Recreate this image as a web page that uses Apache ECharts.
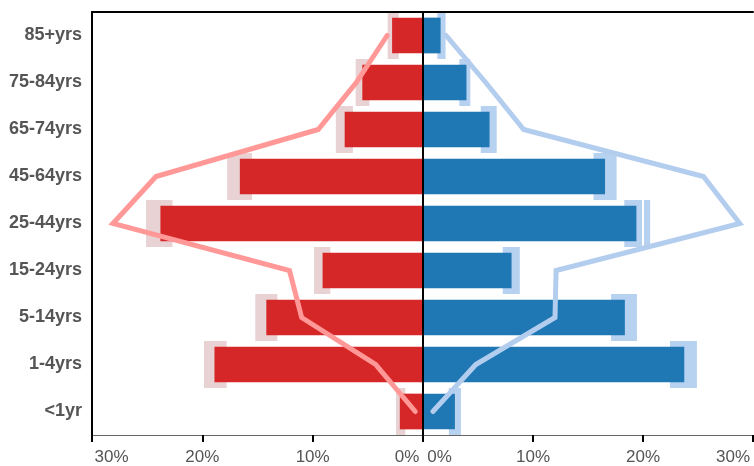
<!DOCTYPE html>
<html>
<head>
<meta charset="utf-8">
<script src="https://cdn.jsdelivr.net/npm/echarts@6/dist/echarts.min.js"></script>
<style>html,body{margin:0;padding:0;background:#fff}#c{width:754px;height:466px}</style>
</head>
<body>
<div id="c"></div>
<script>
// Categories, top to bottom
var categories = ['85+yrs','75-84yrs','65-74yrs','45-64yrs','25-44yrs','15-24yrs','5-14yrs','1-4yrs','<1yr'];
// Left side (red) values in %
var leftBars  = [2.8, 5.5, 7.1, 16.6, 23.8, 9.1, 14.2, 18.9, 2.1];
var leftLow   = [2.2, 4.85, 6.35, 15.5, 22.7, 8.4, 13.2, 17.8, 1.6];
var leftHigh  = [3.2, 6.1, 7.9, 17.75, 25.1, 9.9, 15.2, 19.9, 2.45];
var leftLine  = [3.25, 6.05, 9.5, 24.2, 28.1, 12.1, 11.0, 4.3, 0.7];
// Right side (blue) values in %
var rightBars = [1.6, 3.95, 6.05, 16.55, 19.4, 8.05, 18.35, 23.75, 2.9];
var rightLow  = [1.3, 3.3, 5.25, 15.5, 18.3, 7.25, 17.1, 22.45, 2.35];
var rightHigh = [2.05, 4.3, 6.7, 17.6, 20.65, 8.8, 19.45, 24.9, 3.45];
var rightLine = [2.1, 5.7, 9.15, 25.5, 28.8, 12.1, 12.0, 4.8, 0.9];
// Tick values
var ticks = [0, 10, 20, 30];

function diff(a, b) { return a.map(function (v, i) { return +(v - b[i]).toFixed(3); }); }

var labelFont = { fontFamily: 'Liberation Sans, Arial, sans-serif', fontSize: 17, color: '#555' };

function xAxisBottom(gi, side) {
  return {
    type: 'value', gridIndex: gi, min: ticks[0], max: ticks[ticks.length - 1], interval: 10, inverse: side === 'L', position: 'bottom',
    axisLine: { show: true, onZero: false, lineStyle: { color: '#666', width: 1 } },
    axisTick: { show: true, length: 7, lineStyle: { color: '#000', width: 2 } },
    splitLine: { show: true, lineStyle: { color: '#fff', width: 2 } },
    axisLabel: {
      show: true, margin: 14, showMinLabel: true, showMaxLabel: true,
      fontFamily: labelFont.fontFamily, fontSize: 17, color: '#555',
      formatter: function (v) {
        if (v === 0) return side === 'L' ? '{l0|0%}' : '{r0|0%}';
        if (v === 30) return side === 'L' ? '{l30|30%}' : '{r30|30%}';
        return v + '%';
      },
      rich: {
        l0: { fontFamily: labelFont.fontFamily, fontSize: 17, color: '#555', padding: [0, 32, 0, 0] },
        r0: { fontFamily: labelFont.fontFamily, fontSize: 17, color: '#555', padding: [0, 0, 0, 33] },
        l30: { fontFamily: labelFont.fontFamily, fontSize: 17, color: '#555', padding: [0, 0, 0, 39] },
        r30: { fontFamily: labelFont.fontFamily, fontSize: 17, color: '#555', padding: [0, 40, 0, 0] }
      }
    }
  };
}
function xAxisTop(gi, side) {
  return {
    type: 'value', gridIndex: gi, min: 0, max: 30, interval: 10, inverse: side === 'L', position: 'top', z: 5,
    axisLine: { show: true, onZero: false, lineStyle: { color: '#000', width: 2 } },
    axisTick: { show: false }, axisLabel: { show: false }, splitLine: { show: false }
  };
}
function yAxisMain(gi, showLabels) {
  return {
    type: 'category', gridIndex: gi, data: categories, inverse: true, position: 'left', z: 5,
    axisLine: { show: true, onZero: false, lineStyle: { color: '#000', width: 2 } },
    axisTick: { show: false },
    splitLine: { show: false },
    axisLabel: showLabels ? {
      show: true, margin: 10, fontFamily: labelFont.fontFamily, fontSize: 18, fontWeight: 'bold', color: '#555'
    } : { show: false }
  };
}
function yAxisHidden(gi) {
  return { type: 'category', gridIndex: gi, data: categories, inverse: true, show: false };
}

var option = {
  animation: false,
  grid: [
    { left: 92, top: 12, width: 331, height: 424 },
    { left: 423, top: 12, width: 330, height: 424 }
  ],
  xAxis: [xAxisBottom(0, 'L'), xAxisBottom(1, 'R'), xAxisTop(0, 'L'), xAxisTop(1, 'R')],
  yAxis: [yAxisMain(0, true), yAxisHidden(0), yAxisMain(1, false), yAxisHidden(1)],
  series: [
    // left ranges
    { type: 'bar', xAxisIndex: 0, yAxisIndex: 1, stack: 'rl', barWidth: '100%', z: -1, silent: true,
      itemStyle: { color: 'transparent' }, data: leftLow },
    { type: 'bar', xAxisIndex: 0, yAxisIndex: 1, stack: 'rl', barWidth: '100%', z: -1,
      itemStyle: { color: '#e9d2d3' }, data: diff(leftHigh, leftLow) },
    // right ranges
    { type: 'bar', xAxisIndex: 1, yAxisIndex: 3, stack: 'rr', barWidth: '100%', z: -1, silent: true,
      itemStyle: { color: 'transparent' }, data: rightLow },
    { type: 'bar', xAxisIndex: 1, yAxisIndex: 3, stack: 'rr', barWidth: '100%', z: -1,
      itemStyle: { color: '#b7d1f0' }, data: diff(rightHigh, rightLow) },
    // main bars
    { type: 'bar', xAxisIndex: 0, yAxisIndex: 0, barWidth: '76%', z: 2,
      itemStyle: { color: '#d62728' }, data: leftBars },
    { type: 'bar', xAxisIndex: 1, yAxisIndex: 2, barWidth: '76%', z: 2,
      itemStyle: { color: '#1f77b4' }, data: rightBars },
    // lines
    { type: 'line', xAxisIndex: 0, yAxisIndex: 0, z: 4, showSymbol: false, symbol: 'none',
      lineStyle: { color: '#ff9896', width: 5, cap: 'round', join: 'miter' }, data: leftLine },
    { type: 'line', xAxisIndex: 1, yAxisIndex: 2, z: 4, showSymbol: false, symbol: 'none',
      lineStyle: { color: '#b3cdee', width: 5, cap: 'round', join: 'miter' }, data: rightLine }
  ]
};
var chart = echarts.init(document.getElementById('c'), null, { renderer: 'canvas' });
chart.setOption(option);
</script>
</body>
</html>
